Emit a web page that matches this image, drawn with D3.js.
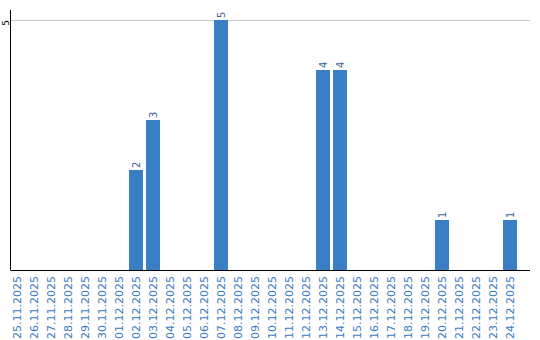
<!DOCTYPE html>
<html>
<head>
    <script src="https://cdn.jsdelivr.net/npm/d3@7"></script>
    <style type="text/css">
        body { margin: 0; background: white; }
        svg { display: block; }
        .tick-label { font-family: "DejaVu Sans", sans-serif; font-size: 11px; fill: #3a7bbf; }
        .value-label { font-family: "DejaVu Sans", sans-serif; font-size: 10px; fill: #3d5f8c; }
    </style>
</head>
<body>
<div id="chart"></div>
<script type="text/javascript">
    var dates = ["25.11.2025", "26.11.2025", "27.11.2025", "28.11.2025", "29.11.2025", "30.11.2025",
        "01.12.2025", "02.12.2025", "03.12.2025", "04.12.2025", "05.12.2025", "06.12.2025",
        "07.12.2025", "08.12.2025", "09.12.2025", "10.12.2025", "11.12.2025", "12.12.2025",
        "13.12.2025", "14.12.2025", "15.12.2025", "16.12.2025", "17.12.2025", "18.12.2025",
        "19.12.2025", "20.12.2025", "21.12.2025", "22.12.2025", "23.12.2025", "24.12.2025"];
    var counts = [0, 0, 0, 0, 0, 0, 0, 2, 3, 0, 0, 0, 5, 0, 0, 0, 0, 0, 4, 4, 0, 0, 0, 0, 0, 1, 0, 0, 0, 1];
    var yTicks = [5];

    var width = 540, height = 340;
    var plotLeft = 10.5, plotRight = 530, plotTop = 20, base = 270;

    var svg = d3.select("#chart").append("svg")
        .attr("width", width)
        .attr("height", height);

    var data = dates.map(function (d, i) { return { date: d, value: counts[i] }; });

    var x = d3.scaleBand()
        .domain(dates)
        .range([8.5, 518.5])
        .paddingInner(3 / 17)
        .paddingOuter(1.5 / 17);

    var y = d3.scaleLinear()
        .domain([0, 5])
        .range([base, plotTop]);

    // grid line
    svg.selectAll("line.grid")
        .data(yTicks)
        .enter().append("line")
        .attr("class", "grid")
        .attr("x1", plotLeft).attr("x2", plotRight)
        .attr("y1", function (d) { return y(d) + 0.5; })
        .attr("y2", function (d) { return y(d) + 0.5; })
        .attr("stroke", "#c8c8c8")
        .attr("stroke-width", 1);

    svg.selectAll("text.ytick")
        .data(yTicks)
        .enter().append("text")
        .attr("class", "ytick")
        .attr("transform", function (d) { return "translate(8.5," + (y(d) + 3) + ") rotate(-90)"; })
        .attr("text-anchor", "middle")
        .style("font-family", "DejaVu Sans, sans-serif")
        .style("font-size", "9px")
        .attr("fill", "#000")
        .text(function (d) { return d; });

    // bars
    svg.selectAll("rect")
        .data(data.filter(function (d) { return d.value > 0; }))
        .enter().append("rect")
        .attr("x", function (d) { return x(d.date); })
        .attr("y", function (d) { return y(d.value); })
        .attr("width", x.bandwidth())
        .attr("height", function (d) { return base - y(d.value); })
        .attr("fill", "#3a7ec4");

    svg.selectAll("text.value-label")
        .data(data.filter(function (d) { return d.value > 0; }))
        .enter().append("text")
        .attr("class", "value-label")
        .attr("transform", function (d) {
            return "translate(" + (x(d.date) + x.bandwidth() / 2 + 3.5) + "," + (y(d.value) - 2) + ") rotate(-90)";
        })
        .attr("text-anchor", "start")
        .text(function (d) { return d.value; });

    // axes lines
    svg.append("line")
        .attr("x1", plotLeft).attr("x2", plotLeft)
        .attr("y1", 10).attr("y2", base)
        .attr("stroke", "#000").attr("stroke-width", 1);
    svg.append("line")
        .attr("x1", plotLeft).attr("x2", plotRight)
        .attr("y1", base + 0.5).attr("y2", base + 0.5)
        .attr("stroke", "#000").attr("stroke-width", 1);

    // x labels
    svg.selectAll("text.tick-label")
        .data(dates)
        .enter().append("text")
        .attr("class", "tick-label")
        .attr("transform", function (d) {
            return "translate(" + (x(d) + x.bandwidth() / 2 + 4) + "," + (base + 6) + ") rotate(-90)";
        })
        .attr("text-anchor", "end")
        .text(function (d) { return d; });
</script>
</body>
</html>
